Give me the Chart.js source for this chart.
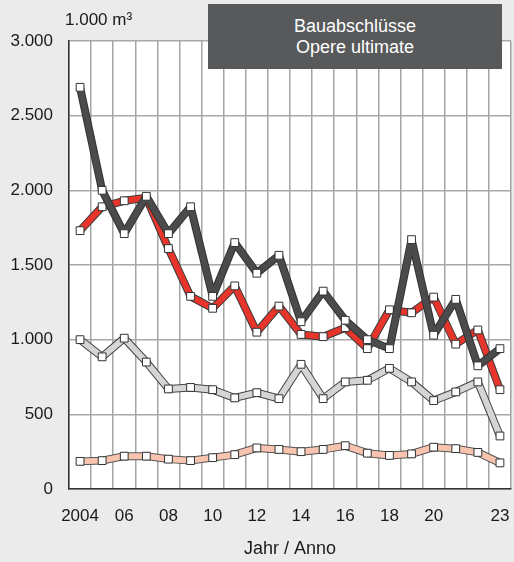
<!DOCTYPE html>
<html>
<head>
<meta charset="utf-8">
<script src="https://cdn.jsdelivr.net/npm/chart.js@4/dist/chart.umd.min.js"></script>
<style>
  html, body { margin: 0; padding: 0; background: #ebebeb; }
  #wrap { position: relative; width: 514px; height: 562px; background: #ebebeb; overflow: hidden; }
  #c { position: absolute; left: 0; top: 0; }
  #unit { position: absolute; left: 65px; top: 9px; font: 17px 'Liberation Sans', Arial, sans-serif; color: #1a1a1a; line-height: 22px; white-space: nowrap; }
  #box { position: absolute; left: 208px; top: 4px; width: 294px; height: 65px; background: #58595b; color: #fff;
         font: 18px 'Liberation Sans', Arial, sans-serif; line-height: 21px; text-align: center;
         display: flex; flex-direction: column; justify-content: center; }
</style>
</head>
<body>
<div id="wrap">
  <canvas id="c" width="514" height="562"></canvas>
  <div id="unit">1.000 m³</div>
  <div id="box"><div>Bauabschlüsse</div><div>Opere ultimate</div></div>
</div>
<script>
const years = ['2004','2005','2006','2007','2008','2009','2010','2011','2012','2013','2014','2015','2016','2017','2018','2019','2020','2021','2022','2023'];
const xTickLabels = ['2004','','06','','08','','10','','12','','14','','16','','18','','20','','','23'];
const yTickValues = [0, 500, 1000, 1500, 2000, 2500, 3000];
const yTickLabels = ['0','500','1.000','1.500','2.000','2.500','3.000'];

const seriesDark   = [2690, 2000, 1710, 1960, 1710, 1890, 1290, 1650, 1445, 1565, 1120, 1325, 1130, 1000, 940, 1670, 1030, 1270, 825, 940];
const seriesRed    = [1730, 1890, 1930, 1950, 1610, 1290, 1210, 1360, 1050, 1225, 1035, 1020, 1080, 940, 1200, 1180, 1285, 970, 1065, 665];
const seriesLight  = [1000, 885, 1010, 850, 670, 680, 665, 610, 645, 605, 835, 605, 717, 728, 808, 717, 592, 650, 717, 355];
const seriesSalmon = [185, 190, 220, 220, 200, 190, 210, 230, 275, 265, 250, 265, 290, 240, 225, 235, 280, 270, 245, 175];

Chart.defaults.font.family = "'Liberation Sans', Arial, sans-serif";
Chart.defaults.color = '#1a1a1a';

function makeSeries(data, fill, outline, base) {
  return [
    { data: data, borderColor: outline, borderWidth: 8, pointRadius: 0, tension: 0,
      borderJoinStyle: 'bevel', order: base + 1 },
    { data: data, borderColor: fill, borderWidth: 6, tension: 0, borderJoinStyle: 'bevel',
      pointStyle: 'rect', pointRadius: 5.5, pointBackgroundColor: '#ffffff',
      pointBorderColor: '#333333', pointBorderWidth: 1, order: base }
  ];
}

const plotBg = {
  id: 'plotBg',
  beforeDraw(chart) {
    const { ctx, chartArea: a } = chart;
    ctx.save();
    ctx.fillStyle = '#ffffff';
    ctx.fillRect(a.left, a.top, a.right - a.left, a.bottom - a.top);
    ctx.restore();
  }
};

new Chart(document.getElementById('c'), {
  type: 'line',
  data: {
    labels: years,
    datasets: [
      ...makeSeries(seriesDark, '#4b4b4d', '#333333', 0),
      ...makeSeries(seriesRed, '#e8352c', '#3a3a3a', 2),
      ...makeSeries(seriesLight, '#d5d5d5', '#444444', 4),
      ...makeSeries(seriesSalmon, '#f8c4b0', '#555555', 6)
    ]
  },
  options: {
    responsive: false,
    animation: false,
    events: [],
    layout: { autoPadding: false, padding: { top: 41, right: 3, bottom: 0, left: 0 } },
    plugins: { legend: { display: false }, tooltip: { enabled: false } },
    scales: {
      x: {
        type: 'category',
        offset: true,
        grid: { offset: true, color: '#a4a4a4', lineWidth: 1.5, drawTicks: false },
        border: { color: '#333333', width: 1.5 },
        ticks: { autoSkip: false, maxRotation: 0, minRotation: 0, padding: 17, font: { size: 17 },
                 callback: (v, i) => xTickLabels[i] },
        title: { display: true, text: 'Jahr / Anno', font: { size: 18 }, padding: { top: 0, bottom: 2 } },
        afterFit(s) { s.height = 73; s.paddingLeft = 0; s.paddingRight = 0; }
      },
      y: {
        min: 0, max: 3000,
        grid: { color: '#a8a8a8', lineWidth: 1.5, drawTicks: false },
        border: { color: '#333333', width: 1.5 },
        ticks: { stepSize: 500, padding: 16, font: { size: 17 },
                 callback: (v) => yTickLabels[yTickValues.indexOf(v)] },
        afterFit(s) { s.width = 69; }
      }
    }
  },
  plugins: [plotBg]
});
</script>
</body>
</html>
